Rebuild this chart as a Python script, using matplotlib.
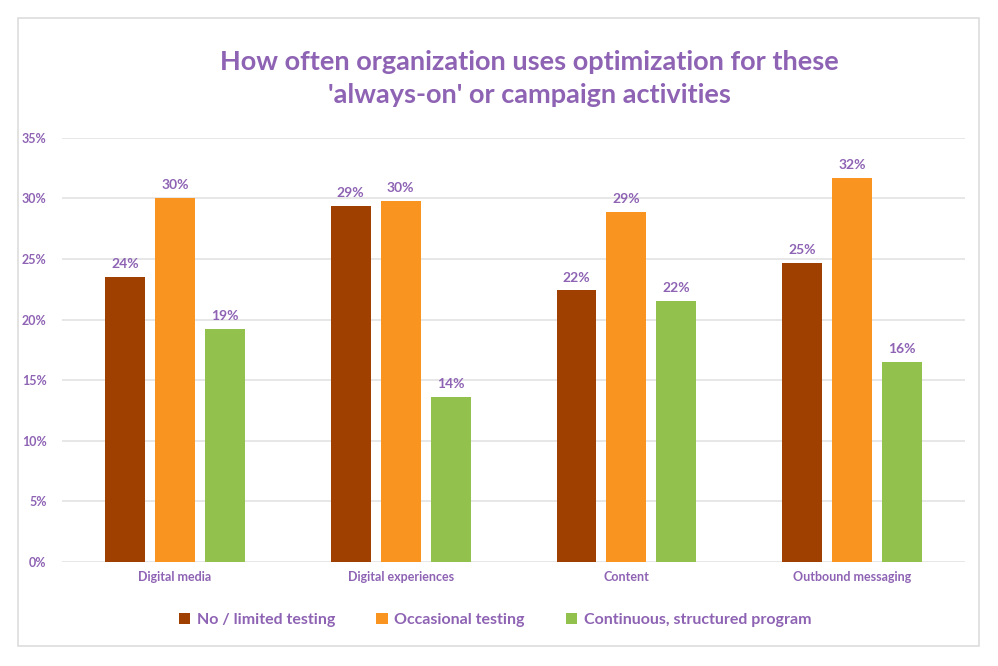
"""Grouped bars: how often optimization is used for always-on / campaign activities."""

import matplotlib
matplotlib.use("Agg")
import matplotlib.pyplot as plt
import numpy as np
from matplotlib.patches import Rectangle

plt.rcParams["font.family"] = ["Lato", "DejaVu Sans"]

categories = ["Digital media", "Digital experiences", "Content", "Outbound messaging"]
series = ["No / limited testing", "Occasional testing", "Continuous, structured program"]
no_limited = [23.5, 29.4, 22.4, 24.7]
occasional = [30.0, 29.8, 28.9, 31.7]
continuous = [19.2, 13.6, 21.5, 16.5]
value_labels = [
    ["24%", "29%", "22%", "25%"],
    ["30%", "30%", "29%", "32%"],
    ["19%", "14%", "22%", "16%"],
]

COLORS = ["#A04000", "#FA9420", "#92C14E"]
TEXT = "#8E63B4"

fig = plt.figure(figsize=(9.98, 6.66), dpi=100)
fig.patches.append(Rectangle((0.018, 0.03), 0.963, 0.943, transform=fig.transFigure,
                             fill=False, edgecolor="#DDDDDD", lw=1.2))
ax = fig.add_axes([0.0621, 0.1566, 0.9049, 0.6364])

x = np.arange(len(categories))
width = 0.177
pitch = 0.221
for i, (vals, name) in enumerate(zip([no_limited, occasional, continuous], series)):
    pos = x + (i - 1) * pitch
    ax.bar(pos, vals, width, color=COLORS[i], label=name, zorder=3)
    for px, v, lab in zip(pos, vals, value_labels[i]):
        ax.annotate(lab, (px, v), textcoords="offset points", xytext=(0, 5),
                    ha="center", va="bottom", fontsize=10, fontweight="bold", color=TEXT)

ax.set_xlim(-0.5, len(categories) - 0.5)
ax.set_ylim(0, 35)
ax.set_yticks(range(0, 36, 5))
ax.set_yticklabels([f"{t}%" for t in range(0, 36, 5)])
ax.set_xticks(x)
ax.set_xticklabels(categories)
ax.tick_params(axis="both", length=0, colors=TEXT, labelsize=9)
ax.tick_params(axis="y", pad=11)
ax.tick_params(axis="x", pad=7)
for lab in ax.get_xticklabels() + ax.get_yticklabels():
    lab.set_fontweight("bold")
ax.grid(axis="y", color="#E3E3E3", lw=1.2, zorder=0)
for s in ax.spines.values():
    s.set_visible(False)

fig.text(0.53, 0.882, "How often organization uses optimization for these\n'always-on' or campaign activities",
         ha="center", va="center", fontsize=19.5, fontweight="bold", color=TEXT, linespacing=1.45)

leg = fig.legend(loc="center", bbox_to_anchor=(0.496, 0.069), ncol=3, frameon=False,
                 handlelength=0.7, handleheight=0.7, handletextpad=0.4, columnspacing=2.6,
                 prop={"size": 11.5, "weight": "bold"})
for t in leg.get_texts():
    t.set_color(TEXT)

fig.savefig("out.png", dpi=100, facecolor="white")
